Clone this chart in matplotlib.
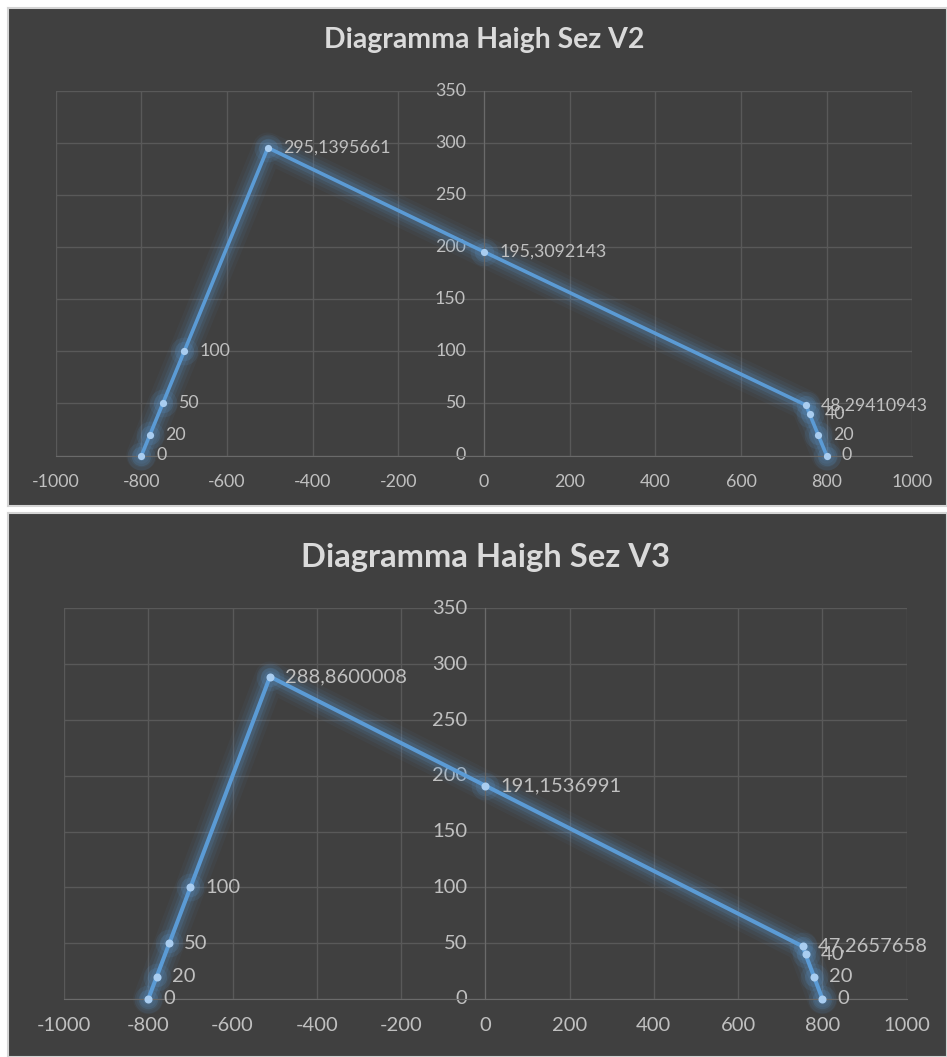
import matplotlib
matplotlib.use("Agg")
import matplotlib.pyplot as plt

plt.rcParams['font.family'] = ['Lato', 'DejaVu Sans']

# ---------------- data ----------------
titles = ["Diagramma Haigh Sez V2", "Diagramma Haigh Sez V3"]

sigma_m_v2 = [-800, -780, -750, -700, -504.86, 0, 751.71, 760, 780, 800]
sigma_a_v2 = [0, 20, 50, 100, 295.1395661, 195.3092143, 48.29410943, 40, 20, 0]

sigma_m_v3 = [-800, -780, -750, -700, -511.14, 0, 752.73, 760, 780, 800]
sigma_a_v3 = [0, 20, 50, 100, 288.8600008, 191.1536991, 47.2657658, 40, 20, 0]

x_ticks = [-1000, -800, -600, -400, -200, 0, 200, 400, 600, 800, 1000]
y_ticks = [0, 50, 100, 150, 200, 250, 300, 350]

# ---------------- style ----------------
W, H = 947, 1057
BG = '#404040'
GRID = '#595959'
LINE = '#5B9BD5'
MARK = '#a9cdf0'
TXT = '#c0c0c0'
TITLE = '#dadada'

fig = plt.figure(figsize=(W / 100, H / 100), dpi=100, facecolor='white')


def fx(px):
    return px / W


def fy(py):
    return 1 - py / H


panels = [
    dict(box=(8, 8, 947, 506), ax=(55.8, 912.3, 90.5, 455.5), title_y=40, title_w=321,
         fs=12.8, data=(sigma_m_v2, sigma_a_v2), title=titles[0], lw=2.6, ms=5.2),
    dict(box=(8, 513, 947, 1057), ax=(64, 906.7, 608.4, 999), title_y=557, title_w=370,
         fs=14.5, data=(sigma_m_v3, sigma_a_v3), title=titles[1], lw=2.9, ms=5.8),
]


def fmt(v):
    s = ('%.10g' % v)
    return s.replace('.', ',')


for p in panels:
    x0, y0, x1, y1 = p['box']
    bg = fig.add_axes([fx(x0), fy(y1), fx(x1 - x0), (y1 - y0) / H], zorder=-5)
    bg.set_facecolor(BG)
    bg.set_xticks([])
    bg.set_yticks([])
    for s in bg.spines.values():
        s.set_color('#d4d4d4')
        s.set_linewidth(1.5)

    l, r, t, b = p['ax']
    ax = fig.add_axes([fx(l), fy(b), fx(r - l), (b - t) / H], zorder=1)
    ax.set_facecolor('none')
    ax.set_xlim(-1000, 1000)
    ax.set_ylim(0, 350)
    ax.set_xticks(x_ticks)
    ax.set_yticks(y_ticks)
    ax.set_xticklabels([str(v) for v in x_ticks])
    ax.set_yticklabels([str(v) for v in y_ticks])
    ax.grid(True, color=GRID, linewidth=1.0, zorder=0)
    ax.set_axisbelow(True)
    for s in ['top', 'right']:
        ax.spines[s].set_visible(False)
    ax.spines['left'].set_position(('data', 0))
    ax.spines['bottom'].set_position(('data', 0))
    ax.spines['left'].set_color('#6a6a6a')
    ax.spines['bottom'].set_color('#6a6a6a')
    ax.tick_params(axis='both', length=0, colors=TXT, labelsize=p['fs'])
    ax.tick_params(axis='y', pad=13)
    ax.tick_params(axis='x', pad=13)
    for lab in ax.get_yticklabels():
        lab.set_verticalalignment('center')

    xs, ys = p['data']
    for lw, a in [(22, 0.05), (17, 0.07), (12, 0.10), (8, 0.16)]:
        ax.plot(xs, ys, color=LINE, lw=lw, alpha=a, solid_capstyle='round',
                solid_joinstyle='round', zorder=2, clip_on=False)
    for msz, a in [(20, 0.10), (14, 0.16)]:
        ax.plot(xs, ys, 'o', color=LINE, ms=msz, alpha=a, mec='none', zorder=2, clip_on=False)
    ax.plot(xs, ys, color=LINE, lw=p['lw'], solid_capstyle='round',
            solid_joinstyle='round', zorder=3, clip_on=False)
    ax.plot(xs, ys, 'o', color=MARK, ms=p['ms'], mec='none', zorder=4, clip_on=False)
    for xv, yv in zip(xs, ys):
        ax.annotate(fmt(yv), (xv, yv), xytext=(15, 0), textcoords='offset pixels',
                    ha='left', va='center', color=TXT, fontsize=p['fs'], zorder=5,
                    annotation_clip=False)

    ttl = fig.text(fx((l + r) / 2), fy(p['title_y']), p['title'], ha='center', va='center',
                   color=TITLE, fontsize=18, fontweight='bold')
    fig.canvas.draw()
    wpx = ttl.get_window_extent().width
    ttl.set_fontsize(18 * p['title_w'] / wpx)

fig.savefig('out.png', dpi=100, facecolor='white')
